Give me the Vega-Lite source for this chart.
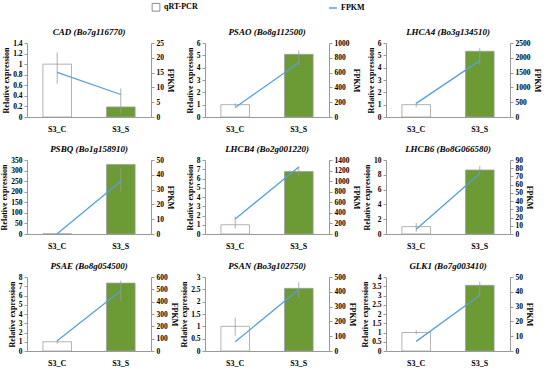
{
  "$schema": "https://vega.github.io/schema/vega-lite/v6.json",
  "padding": {"left": 0, "top": 3, "right": 2, "bottom": 0},
  "background": "white",
  "datasets": {
    "d": [
      {"gene": "CAD", "sample": "S3_C", "expr": 1.0, "lo": 0.63, "hi": 1.22, "fpkm": 15.1, "series": "FPKM"},
      {"gene": "CAD", "sample": "S3_S", "expr": 0.19, "lo": 0.06, "hi": 0.54, "fpkm": 7.6, "series": "FPKM"},
      {"gene": "PSAO", "sample": "S3_C", "expr": 1.0, "lo": 0.85, "hi": 1.1, "fpkm": 129, "series": "FPKM"},
      {"gene": "PSAO", "sample": "S3_S", "expr": 5.08, "lo": 4.2, "hi": 5.4, "fpkm": 734, "series": "FPKM"},
      {"gene": "LHCA4", "sample": "S3_C", "expr": 1.0, "lo": 0.8, "hi": 1.2, "fpkm": 460, "series": "FPKM"},
      {"gene": "LHCA4", "sample": "S3_S", "expr": 5.33, "lo": 4.25, "hi": 5.58, "fpkm": 1904, "series": "FPKM"},
      {"gene": "PSBQ", "sample": "S3_C", "expr": 1.0, "lo": 1.0, "hi": 1.0, "fpkm": 0.1, "series": "FPKM"},
      {"gene": "PSBQ", "sample": "S3_S", "expr": 329, "lo": 200, "hi": 310, "fpkm": 35.6, "series": "FPKM"},
      {"gene": "LHCB4", "sample": "S3_C", "expr": 1.0, "lo": 0.6, "hi": 1.9, "fpkm": 286, "series": "FPKM"},
      {"gene": "LHCB4", "sample": "S3_S", "expr": 6.75, "lo": 6.3, "hi": 7.3, "fpkm": 1266, "series": "FPKM"},
      {"gene": "LHCB6", "sample": "S3_C", "expr": 1.0, "lo": 0.3, "hi": 1.5, "fpkm": 5.9, "series": "FPKM"},
      {"gene": "LHCB6", "sample": "S3_S", "expr": 8.65, "lo": 8.2, "hi": 9.2, "fpkm": 73.6, "series": "FPKM"},
      {"gene": "PSAE", "sample": "S3_C", "expr": 1.0, "lo": 0.8, "hi": 1.2, "fpkm": 83, "series": "FPKM"},
      {"gene": "PSAE", "sample": "S3_S", "expr": 7.34, "lo": 5.4, "hi": 7.6, "fpkm": 489, "series": "FPKM"},
      {"gene": "PSAN", "sample": "S3_C", "expr": 1.0, "lo": 0.62, "hi": 1.35, "fpkm": 62, "series": "FPKM"},
      {"gene": "PSAN", "sample": "S3_S", "expr": 2.54, "lo": 2.15, "hi": 2.8, "fpkm": 415, "series": "FPKM"},
      {"gene": "GLK1", "sample": "S3_C", "expr": 1.0, "lo": 0.9, "hi": 1.12, "fpkm": 6.5, "series": "FPKM"},
      {"gene": "GLK1", "sample": "S3_S", "expr": 3.55, "lo": 2.95, "hi": 3.75, "fpkm": 37.7, "series": "FPKM"}
    ]
  },
  "data": {"name": "d"},
  "columns": 3,
  "spacing": {"row": 12, "column": 2},
  "resolve": {"scale": {"stroke": "shared", "fill": "shared"}, "legend": {"stroke": "shared"}},
  "concat": [
    {
      "title": "CAD (Bo7g116770)", "width": 124, "height": 74,
      "transform": [{"filter": "datum.gene === 'CAD'"}],
      "layer": [
        {"layer": [
          {"mark": {"type": "bar", "stroke": "#a0a0a0", "strokeWidth": 0.8},
           "encoding": {
             "x": {"field": "sample", "type": "nominal", "scale": {"paddingInner": 0.55, "paddingOuter": 0.25}, "axis": {"title": null, "labelAngle": 0, "ticks": false, "labelPadding": 8, "labelFontSize": 8}},
             "y": {"field": "expr", "type": "quantitative", "scale": {"domain": [0, 1.4]}, "axis": {"title": "Relative expression", "values": [0, 0.2, 0.4, 0.6, 0.8, 1, 1.2, 1.4], "format": "~f"}},
             "fill": {"field": "sample", "type": "nominal", "scale": {"domain": ["S3_C", "S3_S"], "range": ["#ffffff", "#6c9a34"]}, "legend": null}}},
          {"mark": {"type": "rule", "color": "#9a9a9a", "strokeWidth": 0.8},
           "encoding": {"x": {"field": "sample", "type": "nominal"}, "y": {"field": "lo", "type": "quantitative", "scale": {"domain": [0, 1.4]}, "axis": {"title": "Relative expression", "values": [0, 0.2, 0.4, 0.6, 0.8, 1, 1.2, 1.4], "format": "~f"}}, "y2": {"field": "hi"}}}
        ]},
        {"mark": {"type": "line", "strokeWidth": 1.3},
         "encoding": {
           "x": {"field": "sample", "type": "nominal"},
           "y": {"field": "fpkm", "type": "quantitative", "scale": {"domain": [0, 25]}, "axis": {"orient": "right", "title": "FPKM", "values": [0, 5, 10, 15, 20, 25], "format": "~f"}},
           "stroke": {"field": "series", "type": "nominal", "scale": {"domain": ["qRT-PCR", "FPKM"], "range": ["#707070", "#56a0d8"]},
             "legend": {"orient": "none", "legendX": 125, "legendY": -40, "direction": "horizontal", "title": null, "columnPadding": 128,
               "encode": {"symbols": {"update": {"shape": {"signal": "datum.value === 'FPKM' ? 'stroke' : 'square'"}, "fill": {"signal": "datum.value === 'FPKM' ? 'transparent' : '#ffffff'"}, "strokeWidth": {"signal": "datum.value === 'FPKM' ? 1.5 : 0.8"}}}}}}}}
      ],
      "resolve": {"scale": {"y": "independent"}}
    },
    {
      "title": "PSAO (Bo8g112500)", "width": 124, "height": 74,
      "transform": [{"filter": "datum.gene === 'PSAO'"}],
      "layer": [
        {"layer": [
          {"mark": {"type": "bar", "stroke": "#a0a0a0", "strokeWidth": 0.8},
           "encoding": {
             "x": {"field": "sample", "type": "nominal", "scale": {"paddingInner": 0.55, "paddingOuter": 0.25}, "axis": {"title": null, "labelAngle": 0, "ticks": false, "labelPadding": 8, "labelFontSize": 8}},
             "y": {"field": "expr", "type": "quantitative", "scale": {"domain": [0, 6]}, "axis": {"title": "Relative expression", "values": [0, 1, 2, 3, 4, 5, 6], "format": "~f"}},
             "fill": {"field": "sample", "type": "nominal", "legend": null}}},
          {"mark": {"type": "rule", "color": "#9a9a9a", "strokeWidth": 0.8},
           "encoding": {"x": {"field": "sample", "type": "nominal"}, "y": {"field": "lo", "type": "quantitative", "scale": {"domain": [0, 6]}, "axis": {"title": "Relative expression", "values": [0, 1, 2, 3, 4, 5, 6], "format": "~f"}}, "y2": {"field": "hi"}}}
        ]},
        {"mark": {"type": "line", "strokeWidth": 1.3},
         "encoding": {
           "x": {"field": "sample", "type": "nominal"},
           "y": {"field": "fpkm", "type": "quantitative", "scale": {"domain": [0, 1000]}, "axis": {"orient": "right", "title": "FPKM", "values": [0, 200, 400, 600, 800, 1000], "format": "~f"}},
           "stroke": {"field": "series", "type": "nominal"}}}
      ],
      "resolve": {"scale": {"y": "independent"}}
    },
    {
      "title": "LHCA4 (Bo3g134510)", "width": 124, "height": 74,
      "transform": [{"filter": "datum.gene === 'LHCA4'"}],
      "layer": [
        {"layer": [
          {"mark": {"type": "bar", "stroke": "#a0a0a0", "strokeWidth": 0.8},
           "encoding": {
             "x": {"field": "sample", "type": "nominal", "scale": {"paddingInner": 0.55, "paddingOuter": 0.25}, "axis": {"title": null, "labelAngle": 0, "ticks": false, "labelPadding": 8, "labelFontSize": 8}},
             "y": {"field": "expr", "type": "quantitative", "scale": {"domain": [0, 6]}, "axis": {"title": "Relative expression", "values": [0, 1, 2, 3, 4, 5, 6], "format": "~f"}},
             "fill": {"field": "sample", "type": "nominal", "legend": null}}},
          {"mark": {"type": "rule", "color": "#9a9a9a", "strokeWidth": 0.8},
           "encoding": {"x": {"field": "sample", "type": "nominal"}, "y": {"field": "lo", "type": "quantitative", "scale": {"domain": [0, 6]}, "axis": {"title": "Relative expression", "values": [0, 1, 2, 3, 4, 5, 6], "format": "~f"}}, "y2": {"field": "hi"}}}
        ]},
        {"mark": {"type": "line", "strokeWidth": 1.3},
         "encoding": {
           "x": {"field": "sample", "type": "nominal"},
           "y": {"field": "fpkm", "type": "quantitative", "scale": {"domain": [0, 2500]}, "axis": {"orient": "right", "title": "FPKM", "values": [0, 500, 1000, 1500, 2000, 2500], "format": "~f"}},
           "stroke": {"field": "series", "type": "nominal"}}}
      ],
      "resolve": {"scale": {"y": "independent"}}
    },
    {
      "title": "PSBQ (Bo1g158910)", "width": 124, "height": 74,
      "transform": [{"filter": "datum.gene === 'PSBQ'"}],
      "layer": [
        {"layer": [
          {"mark": {"type": "bar", "stroke": "#a0a0a0", "strokeWidth": 0.8},
           "encoding": {
             "x": {"field": "sample", "type": "nominal", "scale": {"paddingInner": 0.55, "paddingOuter": 0.25}, "axis": {"title": null, "labelAngle": 0, "ticks": false, "labelPadding": 8, "labelFontSize": 8}},
             "y": {"field": "expr", "type": "quantitative", "scale": {"domain": [0, 350]}, "axis": {"title": "Relative expression", "values": [0, 50, 100, 150, 200, 250, 300, 350], "format": "~f"}},
             "fill": {"field": "sample", "type": "nominal", "legend": null}}},
          {"mark": {"type": "rule", "color": "#9a9a9a", "strokeWidth": 0.8},
           "encoding": {"x": {"field": "sample", "type": "nominal"}, "y": {"field": "lo", "type": "quantitative", "scale": {"domain": [0, 350]}, "axis": {"title": "Relative expression", "values": [0, 50, 100, 150, 200, 250, 300, 350], "format": "~f"}}, "y2": {"field": "hi"}}}
        ]},
        {"mark": {"type": "line", "strokeWidth": 1.3},
         "encoding": {
           "x": {"field": "sample", "type": "nominal"},
           "y": {"field": "fpkm", "type": "quantitative", "scale": {"domain": [0, 50]}, "axis": {"orient": "right", "title": "FPKM", "values": [0, 10, 20, 30, 40, 50], "format": "~f"}},
           "stroke": {"field": "series", "type": "nominal"}}}
      ],
      "resolve": {"scale": {"y": "independent"}}
    },
    {
      "title": "LHCB4 (Bo2g001220)", "width": 124, "height": 74,
      "transform": [{"filter": "datum.gene === 'LHCB4'"}],
      "layer": [
        {"layer": [
          {"mark": {"type": "bar", "stroke": "#a0a0a0", "strokeWidth": 0.8},
           "encoding": {
             "x": {"field": "sample", "type": "nominal", "scale": {"paddingInner": 0.55, "paddingOuter": 0.25}, "axis": {"title": null, "labelAngle": 0, "ticks": false, "labelPadding": 8, "labelFontSize": 8}},
             "y": {"field": "expr", "type": "quantitative", "scale": {"domain": [0, 8]}, "axis": {"title": "Relative expression", "values": [0, 1, 2, 3, 4, 5, 6, 7, 8], "format": "~f"}},
             "fill": {"field": "sample", "type": "nominal", "legend": null}}},
          {"mark": {"type": "rule", "color": "#9a9a9a", "strokeWidth": 0.8},
           "encoding": {"x": {"field": "sample", "type": "nominal"}, "y": {"field": "lo", "type": "quantitative", "scale": {"domain": [0, 8]}, "axis": {"title": "Relative expression", "values": [0, 1, 2, 3, 4, 5, 6, 7, 8], "format": "~f"}}, "y2": {"field": "hi"}}}
        ]},
        {"mark": {"type": "line", "strokeWidth": 1.3},
         "encoding": {
           "x": {"field": "sample", "type": "nominal"},
           "y": {"field": "fpkm", "type": "quantitative", "scale": {"domain": [0, 1400]}, "axis": {"orient": "right", "title": "FPKM", "values": [0, 200, 400, 600, 800, 1000, 1200, 1400], "format": "~f"}},
           "stroke": {"field": "series", "type": "nominal"}}}
      ],
      "resolve": {"scale": {"y": "independent"}}
    },
    {
      "title": "LHCB6 (Bo8G066580)", "width": 124, "height": 74,
      "transform": [{"filter": "datum.gene === 'LHCB6'"}],
      "layer": [
        {"layer": [
          {"mark": {"type": "bar", "stroke": "#a0a0a0", "strokeWidth": 0.8},
           "encoding": {
             "x": {"field": "sample", "type": "nominal", "scale": {"paddingInner": 0.55, "paddingOuter": 0.25}, "axis": {"title": null, "labelAngle": 0, "ticks": false, "labelPadding": 8, "labelFontSize": 8}},
             "y": {"field": "expr", "type": "quantitative", "scale": {"domain": [0, 10]}, "axis": {"title": "Relative expression", "values": [0, 2, 4, 6, 8, 10], "format": "~f"}},
             "fill": {"field": "sample", "type": "nominal", "legend": null}}},
          {"mark": {"type": "rule", "color": "#9a9a9a", "strokeWidth": 0.8},
           "encoding": {"x": {"field": "sample", "type": "nominal"}, "y": {"field": "lo", "type": "quantitative", "scale": {"domain": [0, 10]}, "axis": {"title": "Relative expression", "values": [0, 2, 4, 6, 8, 10], "format": "~f"}}, "y2": {"field": "hi"}}}
        ]},
        {"mark": {"type": "line", "strokeWidth": 1.3},
         "encoding": {
           "x": {"field": "sample", "type": "nominal"},
           "y": {"field": "fpkm", "type": "quantitative", "scale": {"domain": [0, 90]}, "axis": {"orient": "right", "title": "FPKM", "values": [0, 10, 20, 30, 40, 50, 60, 70, 80, 90], "format": "~f"}},
           "stroke": {"field": "series", "type": "nominal"}}}
      ],
      "resolve": {"scale": {"y": "independent"}}
    },
    {
      "title": "PSAE (Bo8g054500)", "width": 124, "height": 74,
      "transform": [{"filter": "datum.gene === 'PSAE'"}],
      "layer": [
        {"layer": [
          {"mark": {"type": "bar", "stroke": "#a0a0a0", "strokeWidth": 0.8},
           "encoding": {
             "x": {"field": "sample", "type": "nominal", "scale": {"paddingInner": 0.55, "paddingOuter": 0.25}, "axis": {"title": null, "labelAngle": 0, "ticks": false, "labelPadding": 8, "labelFontSize": 8}},
             "y": {"field": "expr", "type": "quantitative", "scale": {"domain": [0, 8]}, "axis": {"title": "Relative expression", "values": [0, 1, 2, 3, 4, 5, 6, 7, 8], "format": "~f"}},
             "fill": {"field": "sample", "type": "nominal", "legend": null}}},
          {"mark": {"type": "rule", "color": "#9a9a9a", "strokeWidth": 0.8},
           "encoding": {"x": {"field": "sample", "type": "nominal"}, "y": {"field": "lo", "type": "quantitative", "scale": {"domain": [0, 8]}, "axis": {"title": "Relative expression", "values": [0, 1, 2, 3, 4, 5, 6, 7, 8], "format": "~f"}}, "y2": {"field": "hi"}}}
        ]},
        {"mark": {"type": "line", "strokeWidth": 1.3},
         "encoding": {
           "x": {"field": "sample", "type": "nominal"},
           "y": {"field": "fpkm", "type": "quantitative", "scale": {"domain": [0, 600]}, "axis": {"orient": "right", "title": "FPKM", "values": [0, 100, 200, 300, 400, 500, 600], "format": "~f"}},
           "stroke": {"field": "series", "type": "nominal"}}}
      ],
      "resolve": {"scale": {"y": "independent"}}
    },
    {
      "title": "PSAN (Bo3g102750)", "width": 124, "height": 74,
      "transform": [{"filter": "datum.gene === 'PSAN'"}],
      "layer": [
        {"layer": [
          {"mark": {"type": "bar", "stroke": "#a0a0a0", "strokeWidth": 0.8},
           "encoding": {
             "x": {"field": "sample", "type": "nominal", "scale": {"paddingInner": 0.55, "paddingOuter": 0.25}, "axis": {"title": null, "labelAngle": 0, "ticks": false, "labelPadding": 8, "labelFontSize": 8}},
             "y": {"field": "expr", "type": "quantitative", "scale": {"domain": [0, 3]}, "axis": {"title": "Relative expression", "values": [0, 0.5, 1, 1.5, 2, 2.5, 3], "format": "~f"}},
             "fill": {"field": "sample", "type": "nominal", "legend": null}}},
          {"mark": {"type": "rule", "color": "#9a9a9a", "strokeWidth": 0.8},
           "encoding": {"x": {"field": "sample", "type": "nominal"}, "y": {"field": "lo", "type": "quantitative", "scale": {"domain": [0, 3]}, "axis": {"title": "Relative expression", "values": [0, 0.5, 1, 1.5, 2, 2.5, 3], "format": "~f"}}, "y2": {"field": "hi"}}}
        ]},
        {"mark": {"type": "line", "strokeWidth": 1.3},
         "encoding": {
           "x": {"field": "sample", "type": "nominal"},
           "y": {"field": "fpkm", "type": "quantitative", "scale": {"domain": [0, 500]}, "axis": {"orient": "right", "title": "FPKM", "values": [0, 100, 200, 300, 400, 500], "format": "~f"}},
           "stroke": {"field": "series", "type": "nominal"}}}
      ],
      "resolve": {"scale": {"y": "independent"}}
    },
    {
      "title": "GLK1 (Bo7g003410)", "width": 124, "height": 74,
      "transform": [{"filter": "datum.gene === 'GLK1'"}],
      "layer": [
        {"layer": [
          {"mark": {"type": "bar", "stroke": "#a0a0a0", "strokeWidth": 0.8},
           "encoding": {
             "x": {"field": "sample", "type": "nominal", "scale": {"paddingInner": 0.55, "paddingOuter": 0.25}, "axis": {"title": null, "labelAngle": 0, "ticks": false, "labelPadding": 8, "labelFontSize": 8}},
             "y": {"field": "expr", "type": "quantitative", "scale": {"domain": [0, 4]}, "axis": {"title": "Relative expression", "values": [0, 0.5, 1, 1.5, 2, 2.5, 3, 3.5, 4], "format": "~f"}},
             "fill": {"field": "sample", "type": "nominal", "legend": null}}},
          {"mark": {"type": "rule", "color": "#9a9a9a", "strokeWidth": 0.8},
           "encoding": {"x": {"field": "sample", "type": "nominal"}, "y": {"field": "lo", "type": "quantitative", "scale": {"domain": [0, 4]}, "axis": {"title": "Relative expression", "values": [0, 0.5, 1, 1.5, 2, 2.5, 3, 3.5, 4], "format": "~f"}}, "y2": {"field": "hi"}}}
        ]},
        {"mark": {"type": "line", "strokeWidth": 1.3},
         "encoding": {
           "x": {"field": "sample", "type": "nominal"},
           "y": {"field": "fpkm", "type": "quantitative", "scale": {"domain": [0, 50]}, "axis": {"orient": "right", "title": "FPKM", "values": [0, 10, 20, 30, 40, 50], "format": "~f"}},
           "stroke": {"field": "series", "type": "nominal"}}}
      ],
      "resolve": {"scale": {"y": "independent"}}
    }
  ],
  "config": {
    "view": {"stroke": null},
    "font": "Liberation Serif",
    "title": {"font": "Liberation Serif", "fontSize": 9, "fontStyle": "italic", "fontWeight": "bold", "offset": 2, "color": "#000"},
    "axis": {"labelFont": "Liberation Serif", "labelFontWeight": "bold", "labelFontSize": 7.5, "labelColor": "#000", "labelOverlap": false, "titleFont": "Liberation Serif", "titleFontWeight": "bold", "titleFontSize": 8, "titleColor": "#000", "domainColor": "#999", "tickColor": "#999", "grid": false, "tickSize": 3, "titlePadding": 2, "labelPadding": 2},
    "legend": {
      "labelFont": "Liberation Serif", "labelFontWeight": "bold", "labelFontSize": 8, "labelColor": "#000",
      "symbolSize": 60, "symbolStrokeWidth": 1.2
    }
  }
}
